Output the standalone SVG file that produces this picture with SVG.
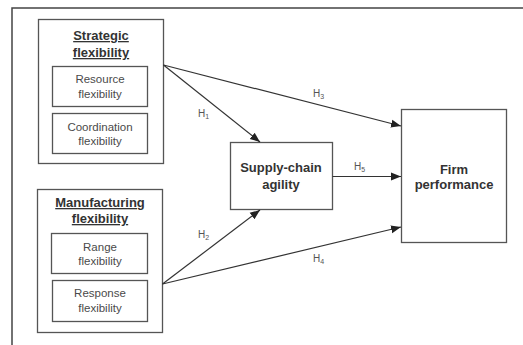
<svg xmlns="http://www.w3.org/2000/svg" width="523" height="345" viewBox="0 0 523 345">
<style>
.box{fill:#fff;stroke:#555;stroke-width:1.3}
.t{font-family:"Liberation Sans",Arial,sans-serif;fill:#4a4a4a;text-anchor:middle}
.b{font-weight:bold;font-size:13px;fill:#333}
.r{font-size:11.5px}
.u{text-decoration:underline}
.h{font-family:"Liberation Sans",Arial,sans-serif;fill:#555;font-size:10px}
.c{stroke:#333;stroke-width:1.2;fill:none;marker-end:url(#ah)}
</style>
<defs>
<marker id="ah" viewBox="0 0 10 10" refX="10" refY="5" markerWidth="10" markerHeight="10" markerUnits="userSpaceOnUse" orient="auto">
<path d="M0,1 L10,5 L0,9 z" fill="#222"/>
</marker>
</defs>
<rect width="523" height="345" fill="#fff"/>
<path d="M12,345 V8 H523" fill="none" stroke="#444" stroke-width="1.5"/>
<g id="strategic">
<rect class="box" x="38.5" y="19.5" width="125" height="144"/>
<text class="t b u" x="101" y="40">Strategic</text>
<text class="t b u" x="101" y="57">flexibility</text>
</g>
<g id="resource">
<rect class="box" x="52.5" y="66.5" width="95" height="40"/>
<text class="t r" x="100" y="83">Resource</text>
<text class="t r" x="100" y="98">flexibility</text>
</g>
<g id="coordination">
<rect class="box" x="52.5" y="113.5" width="95" height="40"/>
<text class="t r" x="100" y="131">Coordination</text>
<text class="t r" x="100" y="145">flexibility</text>
</g>
<g id="manufacturing">
<rect class="box" x="37.5" y="189.5" width="125" height="143"/>
<text class="t b u" x="100" y="207">Manufacturing</text>
<text class="t b u" x="100" y="223">flexibility</text>
</g>
<g id="range">
<rect class="box" x="51.5" y="233.5" width="96" height="40"/>
<text class="t r" x="100" y="251">Range</text>
<text class="t r" x="100" y="265">flexibility</text>
</g>
<g id="response">
<rect class="box" x="52.5" y="280.5" width="95" height="41"/>
<text class="t r" x="100" y="297">Response</text>
<text class="t r" x="100" y="312">flexibility</text>
</g>
<g id="agility">
<rect class="box" x="230.5" y="142.5" width="102" height="67"/>
<text class="t b" x="281" y="172">Supply-chain</text>
<text class="t b" x="281" y="189">agility</text>
</g>
<g id="firm">
<rect class="box" x="401.5" y="109.5" width="105" height="133"/>
<text class="t b" x="454" y="174">Firm</text>
<text class="t b" x="454" y="189">performance</text>
</g>
<g id="connectors">
<line class="c" x1="163.5" y1="65" x2="260" y2="142"/>
<line class="c" x1="163.5" y1="65" x2="401" y2="126"/>
<line class="c" x1="332.5" y1="176.5" x2="401" y2="176.5"/>
<line class="c" x1="162.5" y1="284" x2="260" y2="210"/>
<line class="c" x1="162.5" y1="284" x2="401" y2="227"/>
<text class="h" x="198" y="117">H<tspan font-size="7" dy="2">1</tspan></text>
<text class="h" x="313" y="97">H<tspan font-size="7" dy="2">3</tspan></text>
<text class="h" x="354" y="170">H<tspan font-size="7" dy="2">5</tspan></text>
<text class="h" x="198" y="238">H<tspan font-size="7" dy="2">2</tspan></text>
<text class="h" x="313" y="262">H<tspan font-size="7" dy="2">4</tspan></text>
</g>
</svg>
